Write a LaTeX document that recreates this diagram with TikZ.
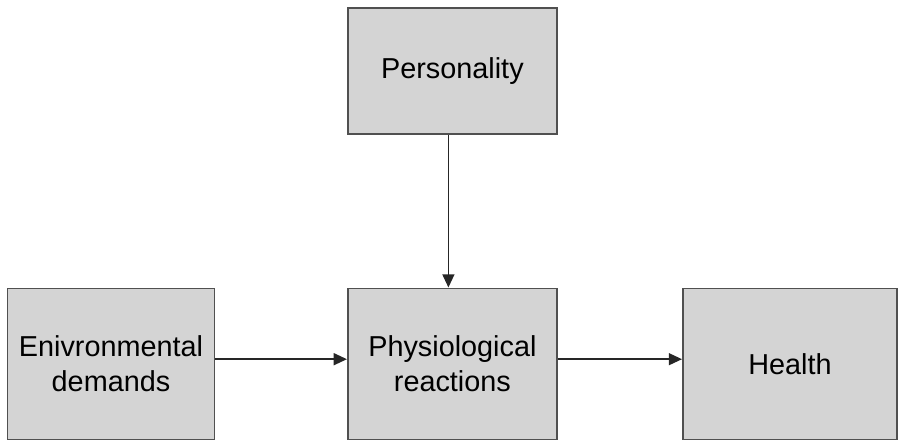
\documentclass[tikz,border=0pt]{standalone}
\usepackage{fontspec}
\setmainfont{Liberation Sans}
\usetikzlibrary{arrows.meta}
\definecolor{boxgray}{RGB}{212,212,212}
\definecolor{edgegray}{RGB}{80,80,80}
\begin{document}
\begin{tikzpicture}[auto,
    factor/.style ={rectangle, draw=edgegray, fill=boxgray, line width=1.4pt,
      align=center, inner sep=0pt, font=\fontsize{20.5}{25}\selectfont},
    link/.style ={line width=1pt, draw=black!85, -{Triangle[length=0.33cm,width=0.3cm]}}]
   \useasboundingbox (0,0) rectangle (22.475,11.025);
   \node[factor, minimum width=5.225cm, minimum height=3.15cm] (P) at (11.31,9.25) {Personality};
   \node[factor, minimum width=5.175cm, minimum height=3.775cm] (E) at (2.775,1.925) {Enivronmental\\demands};
   \node[factor, minimum width=5.225cm, minimum height=3.775cm] (R) at (11.31,1.925) {Physiological\\reactions};
   \node[factor, minimum width=5.35cm, minimum height=3.775cm] (H) at (19.75,1.925) {Health};

   \draw[link] ([xshift=-0.1cm]P.south) to  ([xshift=-0.1cm]R.north);
   \draw[link] ([yshift=0.12cm]E.east) to  ([yshift=0.12cm]R.west);
   \draw[link] ([yshift=0.12cm]R.east) to  ([yshift=0.12cm]H.west);
 \end{tikzpicture}
\end{document}
